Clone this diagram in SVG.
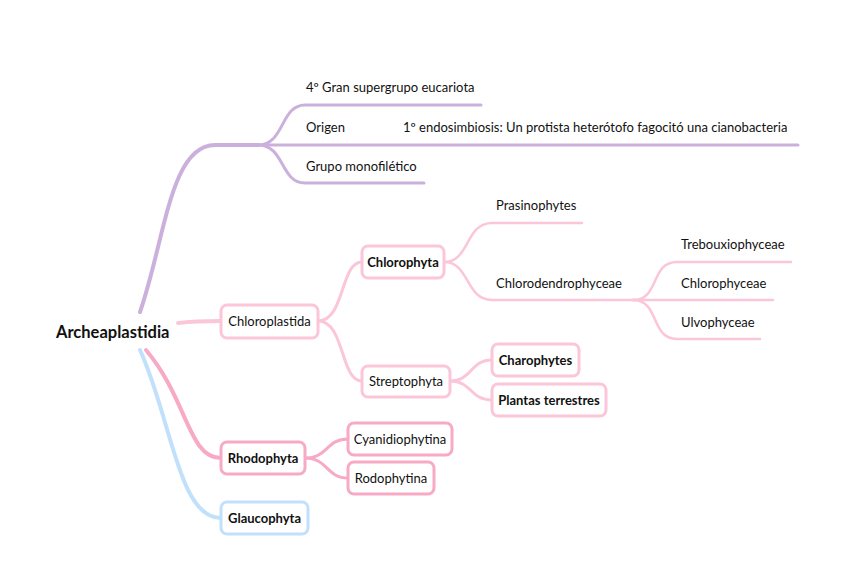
<svg xmlns="http://www.w3.org/2000/svg" width="848" height="580" viewBox="0 0 848 580">
<style>
text{font-family:Lato,"Noto Sans",sans-serif;font-size:13px;fill:#111}
.b{font-weight:bold}
.root{font-size:16.5px;font-weight:bold}
.c{fill:none;stroke-linecap:round}
.pu{stroke:#cbb0dc}
.pk{stroke:#fbc6d9}
.rd{stroke:#f8a9c5}
.bl{stroke:#c1e0fb}
.box{fill:#fff;stroke-width:3}
</style>
<rect width="848" height="580" fill="#fff"/>
<g id="connectors">
<path class="c pu" stroke-width="4" d="M140,312 C165,240 170,145 215,145 L258,145"/>
<path class="c pu" stroke-width="3" d="M258,145 C285,145 280,105 305,105 L481,105"/>
<path class="c pu" stroke-width="3" d="M258,145 L798,145"/>
<path class="c pu" stroke-width="3" d="M258,145 C285,145 280,183 305,183 L424,183"/>
<path class="c pk" stroke-width="4" d="M178,323 C195,321 205,321 221,321"/>
<path class="c pk" stroke-width="3" d="M318,321 C345,321 340,262 362,262"/>
<path class="c pk" stroke-width="3" d="M318,321 C345,321 340,381 362,381"/>
<path class="c pk" stroke-width="2.5" d="M444,262 C470,262 465,223 492,223 L582,223"/>
<path class="c pk" stroke-width="2.5" d="M444,262 C470,262 465,300 492,300 L636,300"/>
<path class="c pk" stroke-width="2.5" d="M633,300 C660,300 650,262 677,262 L791,262"/>
<path class="c pk" stroke-width="2.5" d="M633,300 L773,300"/>
<path class="c pk" stroke-width="2.5" d="M633,300 C660,300 650,339 677,339 L760,339"/>
<path class="c pk" stroke-width="3" d="M450,381 C472,381 470,360 492,360"/>
<path class="c pk" stroke-width="3" d="M450,381 C472,381 470,400 492,400"/>
<path class="c bl" stroke-width="4" d="M140,350 C172,420 178,518 221,518"/>
<path class="c rd" stroke-width="4" d="M146,350 C188,400 188,458 221,458"/>
<path class="c rd" stroke-width="3" d="M305,458 C328,458 326,439 348,439"/>
<path class="c rd" stroke-width="3" d="M305,458 C328,458 326,478 348,478"/>
</g>
<g id="root"><text class="root" x="56" y="338">Archeaplastidia</text></g>
<g id="gran"><text x="306" y="92">4º Gran supergrupo eucariota</text></g>
<g id="origen"><text x="306" y="132">Origen</text></g>
<g id="endosimbiosis"><text x="403" y="132">1º endosimbiosis: Un protista heterótofo fagocitó una cianobacteria</text></g>
<g id="monofiletico"><text x="306" y="171">Grupo monofilético</text></g>
<g id="chloroplastida"><rect class="box pk" x="221" y="305" width="97" height="33" rx="6"/><text x="269.5" y="326" text-anchor="middle">Chloroplastida</text></g>
<g id="chlorophyta"><rect class="box pk" x="362" y="246" width="82" height="32" rx="6"/><text class="b" x="403" y="267" text-anchor="middle">Chlorophyta</text></g>
<g id="streptophyta"><rect class="box pk" x="362" y="366" width="88" height="31" rx="6"/><text x="406" y="386" text-anchor="middle">Streptophyta</text></g>
<g id="prasinophytes"><text x="496" y="210">Prasinophytes</text></g>
<g id="chlorodendrophyceae"><text x="496" y="288">Chlorodendrophyceae</text></g>
<g id="trebouxiophyceae"><text x="681" y="249">Trebouxiophyceae</text></g>
<g id="chlorophyceae"><text x="681" y="288">Chlorophyceae</text></g>
<g id="ulvophyceae"><text x="681" y="327">Ulvophyceae</text></g>
<g id="charophytes"><rect class="box pk" x="492" y="344" width="87" height="32" rx="6"/><text class="b" x="535.5" y="365" text-anchor="middle">Charophytes</text></g>
<g id="plantas"><rect class="box pk" x="492" y="384" width="114" height="32" rx="6"/><text class="b" x="549" y="405" text-anchor="middle">Plantas terrestres</text></g>
<g id="rhodophyta"><rect class="box rd" x="221" y="442" width="84" height="32" rx="6"/><text class="b" x="263" y="463" text-anchor="middle">Rhodophyta</text></g>
<g id="cyanidiophytina"><rect class="box rd" x="348" y="423" width="104" height="32" rx="6"/><text x="400" y="444" text-anchor="middle">Cyanidiophytina</text></g>
<g id="rodophytina"><rect class="box rd" x="348" y="462" width="86" height="32" rx="6"/><text x="391" y="483" text-anchor="middle">Rodophytina</text></g>
<g id="glaucophyta"><rect class="box bl" x="221" y="502" width="87" height="32" rx="6"/><text class="b" x="264.5" y="523" text-anchor="middle">Glaucophyta</text></g>
</svg>
